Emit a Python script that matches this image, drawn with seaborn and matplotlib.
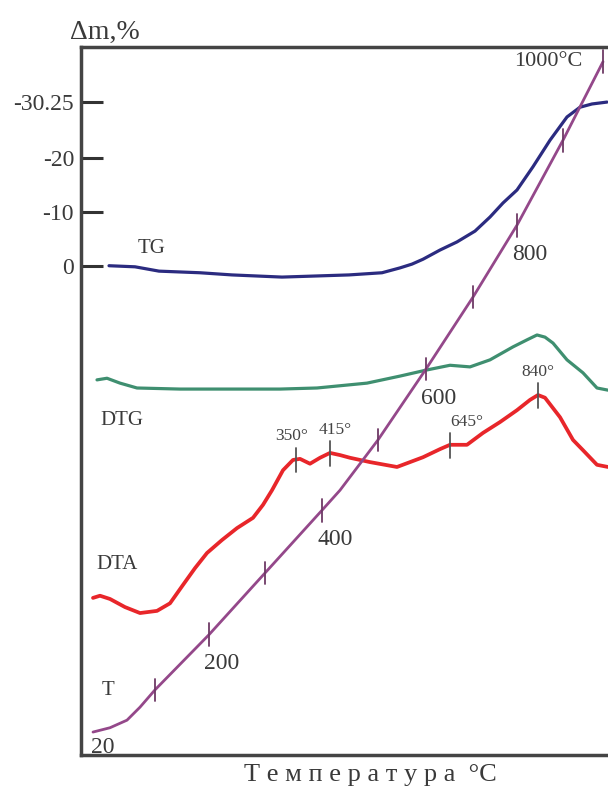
import numpy as np
import pandas as pd
import matplotlib
matplotlib.use("Agg")
import matplotlib.pyplot as plt
import seaborn as sns

# curves: x = horizontal position, y = in Δm,% units
tg_x = [28, 54, 78, 119, 151, 201, 268, 301, 319, 331, 342, 359, 376, 394, 409, 422, 436, 452, 469, 486, 499, 511, 526]
tg_y = [0.0, 0.2, 1.0, 1.3, 1.7, 2.1, 1.7, 1.3, 0.4, -0.3, -1.2, -2.9, -4.4, -6.4, -9.0, -11.6, -14.0, -18.3, -23.2, -27.5, -29.3, -29.9, -30.25]

dtg_x = [16, 26, 39, 56, 99, 199, 236, 286, 319, 345, 369, 389, 409, 432, 446, 456, 464, 472, 486, 502, 516, 527]
dtg_y = [21.1, 20.8, 21.7, 22.6, 22.8, 22.8, 22.6, 21.7, 20.4, 19.3, 18.4, 18.7, 17.4, 15.0, 13.7, 12.8, 13.2, 14.3, 17.4, 19.8, 22.6, 23.0]

dta_x = [12, 19, 29, 44, 59, 76, 89, 102, 114, 126, 141, 156, 172, 182, 191, 202, 212, 219, 229, 239, 249, 259, 269,
         289, 316, 342, 359, 369, 386, 402, 419, 436, 449, 457, 464, 479, 492, 502, 516, 527]
dta_y = [61.4, 61.0, 61.6, 63.1, 64.2, 63.8, 62.4, 59.0, 55.9, 53.1, 50.7, 48.5, 46.6, 44.2, 41.5, 37.8, 35.9, 35.7, 36.6, 35.5, 34.6, 35.0, 35.5,
         36.3, 37.2, 35.4, 33.9, 33.1, 33.1, 30.9, 28.9, 26.7, 24.8, 23.9, 24.4, 28.0, 32.2, 34.1, 36.8, 37.2]

t_x = [12, 29, 46, 59, 74, 128, 184, 241, 259, 297, 345, 392, 436, 482, 522]
t_y = [86.2, 85.4, 84.0, 81.6, 78.4, 68.2, 56.8, 45.2, 41.5, 32.2, 19.1, 5.8, -7.5, -23.2, -37.7]

t_marks = [100, 200, 300, 400, 500, 600, 700, 800, 900, 1000]
t_mark_x = [74, 128, 184, 241, 297, 345, 392, 436, 482, 522]
t_labels = {200: "200", 400: "400", 600: "600", 800: "800"}

peak_labels = ["350°", "415°", "645°", "840°"]
peak_x = [215, 249, 369, 457]
peak_dx = [-4, 5, 17, 0]

yticks = [0, -10, -20, -30.25]
ytick_labels = ["0", "-10", "-20", "-30.25"]

sns.set_style("white")
plt.rcParams['font.family'] = ['Liberation Serif', 'DejaVu Serif']
txt = "#3a3a3a"

fig = plt.figure(figsize=(6.08, 7.91), dpi=100)
ax = fig.add_axes([81/608, 1-755/791, 527/608, 708/791])

curves = [
    (tg_x, tg_y, "#2b2b80", 2.3),
    (dtg_x, dtg_y, "#3f8f70", 2.3),
    (dta_x, dta_y, "#e8262a", 2.7),
    (t_x, t_y, "#94488a", 2.0),
]
for xs, ys, col, lw in curves:
    d = pd.DataFrame({"x": xs, "y": ys})
    sns.lineplot(data=d, x="x", y="y", color=col, lw=lw, ax=ax, estimator=None, sort=False,
                 solid_joinstyle="round", solid_capstyle="round")

# marks on the temperature line
mark_y = np.interp(t_mark_x, t_x, t_y)
for tv, mx, my in zip(t_marks, t_mark_x, mark_y):
    ax.plot([mx, mx], [my - 2.1, my + 2.1], color="#6e3a66", lw=1.3)
    if tv in t_labels:
        ax.annotate(t_labels[tv], (mx, my), xytext=(13, -29), textcoords="offset pixels",
                    ha="center", va="center", fontsize=17, color=txt)
ax.annotate("1000°C", (t_mark_x[-1], mark_y[-1]), xytext=(-55, 0), textcoords="offset pixels",
            ha="center", va="center", fontsize=16, color=txt)
ax.annotate("20", (t_x[0], t_y[0]), xytext=(10, -15), textcoords="offset pixels",
            ha="center", va="center", fontsize=17, color=txt)

# DTA peaks
peak_y = np.interp(peak_x, dta_x, dta_y)
for lab, px, py, dx in zip(peak_labels, peak_x, peak_y, peak_dx):
    ax.plot([px, px], [py - 2.2, py + 2.4], color="#555555", lw=1.3)
    ax.annotate(lab, (px, py), xytext=(dx, 23), textcoords="offset pixels",
                ha="center", va="center", fontsize=12.5, color="#444444")

# curve names
ax.text(71, -3.2, "TG", fontsize=15, color=txt, ha="center", va="center")
ax.text(41, 28.6, "DTG", fontsize=15, color=txt, ha="center", va="center")
ax.text(36, 55.3, "DTA", fontsize=15, color=txt, ha="center", va="center")
ax.text(27, 78.6, "T", fontsize=15, color=txt, ha="center", va="center")

ax.set_xlim(0, 527)
ax.set_ylim(90.44, -40.43)
ax.set_xticks([])
ax.set_yticks(yticks)
ax.set_yticklabels(ytick_labels)
ax.tick_params(axis="y", direction="in", length=16, width=2.2, color="#333333",
               labelsize=17, labelcolor=txt, pad=5, left=True)
ax.set_xlabel("")
ax.set_ylabel("")
for side in ["left", "top", "bottom"]:
    ax.spines[side].set_color("#444444")
    ax.spines[side].set_linewidth(2.5)
ax.spines["right"].set_visible(False)

fig.text(105/608, 1-32/791, "Δm,%", fontsize=20, color=txt, ha="center", va="center")
fig.text(370/608, 1-775/791, "Т е м п е р а т у р а  °C", fontsize=19, color=txt,
         ha="center", va="center")

fig.savefig("out.png", dpi=100)
